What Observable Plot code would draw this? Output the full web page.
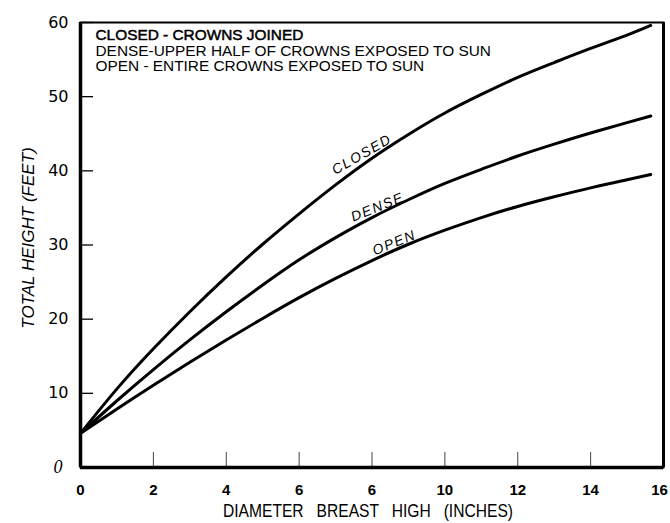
<!DOCTYPE html>
<html>
<head>
<meta charset="utf-8">
<script src="https://cdn.jsdelivr.net/npm/d3@7"></script>
<script src="https://cdn.jsdelivr.net/npm/@observablehq/plot@0.6"></script>
<style>
  body { margin: 0; background: #fff; }
</style>
</head>
<body>
<div id="chart"></div>
<script>
// ---- data ----
const diameters      = [0, 1, 2, 3, 4, 5, 6, 7, 8, 9, 10, 11, 12, 13, 14, 15, 15.65];
const closedHeights  = [4.6, 10.6, 16.0, 21.0, 25.7, 30.1, 34.2, 38.1, 41.7, 44.9, 47.8, 50.3, 52.6, 54.6, 56.5, 58.3, 59.6];
const denseHeights   = [4.6, 9.0, 13.2, 17.2, 21.0, 24.6, 28.0, 31.0, 33.7, 36.1, 38.3, 40.2, 42.0, 43.6, 45.1, 46.5, 47.4];
const openHeights    = [4.6, 7.9, 11.1, 14.2, 17.2, 20.1, 22.9, 25.5, 27.9, 30.1, 32.0, 33.7, 35.2, 36.5, 37.7, 38.8, 39.5];

const seriesNames     = ["CLOSED", "DENSE", "OPEN"];
const curveLabelX     = [7.72, 8.15, 8.61];
const curveLabelY     = [42.2, 35.1, 30.3];
const curveLabelAngle = [-30, -22, -22];

const xTicks      = [0, 2, 4, 6, 8, 10, 12, 14, 16];
const xTickLabels = ["0", "2", "4", "6", "6", "10", "12", "14", "16"];
const yTicks      = [10, 20, 30, 40, 50, 60];
const yZeroTick   = [0];

const legendLines = [
  "CLOSED - CROWNS JOINED",
  "DENSE-UPPER HALF OF CROWNS EXPOSED TO SUN",
  "OPEN - ENTIRE CROWNS EXPOSED TO SUN"
];
const xLabel = "DIAMETER   BREAST   HIGH   (INCHES)";
const yLabel = "TOTAL HEIGHT (FEET)";

// ---- tables built from the arrays ----
const seriesValues = [closedHeights, denseHeights, openHeights];
const rows = seriesNames.flatMap((s, k) =>
  diameters.map((d, i) => ({series: s, diameter: d, height: seriesValues[k][i]})));
const labelRows = seriesNames.map((s, k) =>
  ({text: s, x: curveLabelX[k], y: curveLabelY[k], angle: curveLabelAngle[k]}));

const chart = Plot.plot({
  width: 670,
  height: 523,
  marginLeft: 80,
  marginRight: 7,
  marginTop: 22,
  marginBottom: 56,
  style: {fontFamily: "'Liberation Sans', Arial, sans-serif", fontSize: "15px", background: "white", color: "black"},
  x: {domain: [0, 16]},
  y: {domain: [0, 60]},
  marks: [
    // ticks (inward)
    Plot.axisX(xTicks, {tickSize: -15, fill: "none", stroke: "#444", strokeWidth: 1, label: null}),
    Plot.axisY(yTicks, {tickSize: -13, fill: "none", stroke: "black", strokeWidth: 1.3, label: null}),
    // tick labels
    Plot.axisX(xTicks, {
      tickSize: 0, tickPadding: 17, stroke: "none", fill: "black", label: null,
      tickFormat: d => xTickLabels[xTicks.indexOf(d)],
      fontFamily: "'Liberation Sans', Arial, sans-serif", fontSize: 15, fontWeight: "bold"
    }),
    Plot.axisY(yTicks, {
      tickSize: 0, tickPadding: 12, stroke: "none", fill: "black", label: null,
      fontFamily: "'DejaVu Sans', sans-serif", fontSize: 16
    }),
    Plot.axisY(yZeroTick, {
      tickSize: 0, tickPadding: 18, stroke: "none", fill: "black", label: null,
      fontFamily: "'Liberation Serif', serif", fontStyle: "italic", fontSize: 18
    }),
    // frame & axis lines
    Plot.frame({stroke: "black", strokeWidth: 2}),
    Plot.ruleX([0], {stroke: "black", strokeWidth: 3.5}),
    Plot.ruleY([0], {stroke: "black", strokeWidth: 3.5}),
    Plot.ruleX([16], {stroke: "black", strokeWidth: 3}),
    // curves
    Plot.line(rows, {
      x: "diameter", y: "height", z: "series",
      stroke: "black", strokeWidth: 3, curve: "natural", strokeLinecap: "round"
    }),
    // curve labels
    Plot.text(labelRows, {
      x: "x", y: "y", text: "text", rotate: "angle",
      fontStyle: "italic", fontSize: 14, fill: "black"
    }),
    // legend lines inside the frame
    ...legendLines.map((t, i) => Plot.text([t], {
      frameAnchor: "top-left", dx: 15, dy: 12.3 + i * 15.8,
      textAnchor: "start", lineAnchor: "middle",
      fontSize: 15.4, fill: "black",
      stroke: i === 0 ? "black" : "none", strokeWidth: 0.5
    })),
    // axis titles
    Plot.text([yLabel], {
      frameAnchor: "left", dx: -52, dy: -7, rotate: -90,
      textAnchor: "middle", lineAnchor: "middle",
      fontStyle: "italic", fontSize: 17, fill: "black"
    }),
    Plot.text([xLabel], {
      frameAnchor: "bottom", dx: -4, dy: 43,
      textAnchor: "middle", lineAnchor: "middle",
      fontSize: 19, fill: "black"
    })
  ]
});

// styling touches
d3.select(chart).selectAll("text").each(function() {
  const t = this.textContent;
  if (t === xLabel) {
    this.setAttribute("xml:space", "preserve");
    this.style.whiteSpace = "pre";
    this.setAttribute("textLength", 290);
    this.setAttribute("lengthAdjust", "spacingAndGlyphs");
  }
  if (seriesNames.includes(t)) {
    this.style.letterSpacing = "1.5px";
  }
  if (t === xTickLabels[xTickLabels.length - 1]) {
    this.setAttribute("dx", -4);
  }
});

document.getElementById("chart").appendChild(chart);
</script>
</body>
</html>
